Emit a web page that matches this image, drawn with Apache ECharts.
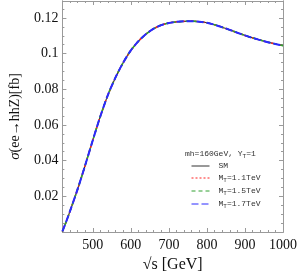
<!DOCTYPE html>
<html>
<head>
<meta charset="utf-8">
<script src="https://cdn.jsdelivr.net/npm/echarts@6/dist/echarts.min.js"></script>
<style>html,body{margin:0;padding:0;background:#fff;}#c{width:300px;height:278px;}</style>
</head>
<body>
<div id="c"></div>
<script>
const sqrtS = [420,430,440,460,480,500,520,540,560,580,600,620,640,660,680,700,720,740,760,780,800,820,840,860,880,900,920,940,960,980,1000];
const sigmaSM = [0.0003,0.0058,0.0117,0.0240,0.0375,0.0515,0.0650,0.0770,0.0868,0.0950,0.1018,0.1070,0.1110,0.1140,0.1160,0.1172,0.1178,0.1181,0.1182,0.1179,0.1173,0.1162,0.1148,0.1133,0.1117,0.1102,0.1088,0.1076,0.1064,0.1054,0.1045];
const sigmaMT11 = sigmaSM.slice();
const sigmaMT15 = sigmaSM.slice();
const sigmaMT17 = sigmaSM.slice();
const xLabelTicks = [500,600,700,800,900,1000];
const xMinorTicks = [420,440,460,480,500,520,540,560,580,600,620,640,660,680,700,720,740,760,780,800,820,840,860,880,900,920,940,960,980,1000];
const yLabelTicks = [0.02,0.04,0.06,0.08,0.1,0.12];
const yMinorTicks = [0,0.005,0.01,0.015,0.02,0.025,0.03,0.035,0.04,0.045,0.05,0.055,0.06,0.065,0.07,0.075,0.08,0.085,0.09,0.095,0.1,0.105,0.11,0.115,0.12,0.125];
const seriesNames = ['SM','M_T=1.1TeV','M_T=1.5TeV','M_T=1.7TeV'];
const legendTitle = 'mh=160GeV, Y{sub|T}=1';

const pairs = arr => sqrtS.map((x,i)=>[x,arr[i]]);
const frameColor = '#9a9a9a';
const serif = 'Liberation Serif';
const mono = 'Liberation Mono';

function xAx(pos, withLabels, minor){
  return {
    type:'value', position:pos, min:420, max:1000, gridIndex:0,
    axisLine:{show:true, onZero:false, lineStyle:{color:frameColor, width:1}},
    splitLine:{show:false},
    axisTick:{show:true, inside:true, length: minor?2:4, customValues: minor?xMinorTicks:xLabelTicks, lineStyle:{color:frameColor}},
    axisLabel:{show:withLabels, customValues:xLabelTicks, fontFamily:serif, fontSize:14, color:'#111', margin:6,
      formatter: v => String(v)},
    name: withLabels ? '√s [GeV]' : '',
    nameLocation:'middle', nameGap:25,
    nameTextStyle:{fontFamily:serif, fontSize:16, color:'#111'}
  };
}
function yAx(pos, withLabels, minor){
  return {
    type:'value', position:pos, min:0, max:0.1295, gridIndex:0,
    axisLine:{show:true, onZero:false, lineStyle:{color:frameColor, width:1}},
    splitLine:{show:false},
    axisTick:{show:true, inside:true, length: minor?2:4, customValues: minor?yMinorTicks:yLabelTicks, lineStyle:{color:frameColor}},
    axisLabel:{show:withLabels, customValues:yLabelTicks, fontFamily:serif, fontSize:14, color:'#111', margin:4,
      formatter: v => String(Math.round(v*100)/100)},
    name: withLabels ? '{s|σ}(ee→hhZ)[fb]' : '',
    nameLocation:'middle', nameGap:35, nameRotate:90,
    nameTextStyle:{fontFamily:serif, fontSize:14, color:'#111', rich:{s:{fontFamily:serif, fontStyle:'italic', fontSize:15, color:'#111'}}}
  };
}

const chart = echarts.init(document.getElementById('c'), null, {renderer:'canvas'});
chart.setOption({
  animation:false,
  backgroundColor:'#fff',
  grid:{left:46.5, right:14, top:1, bottom:39},
  title:{
    text:legendTitle, left:183, top:147, padding:[2,2,2,2],
    textStyle:{fontFamily:mono, fontSize:8, fontWeight:'normal', color:'#333',
      rich:{sub:{fontFamily:mono, fontSize:6, color:'#333', verticalAlign:'bottom', padding:[4,0,0,0]}}}
  },
  legend:{
    orient:'vertical', left:186, top:157, itemWidth:18, itemHeight:8, itemGap:4,
    data:seriesNames,
    itemStyle:{opacity:0},
    lineStyle:{width:1},
    textStyle:{fontFamily:mono, fontSize:8, color:'#333', padding:[0,0,0,4],
      rich:{sub:{fontFamily:mono, fontSize:6, color:'#333', padding:[4,0,0,0]}, t:{fontFamily:mono, fontSize:8, color:'#333'}}},
    formatter: n => n.indexOf('M_T')===0 ? '{t|M}{sub|T}{t|' + n.slice(3) + '}' : n
  },
  xAxis:[xAx('bottom', true, false), xAx('bottom', false, true), xAx('top', false, false), xAx('top', false, true)],
  yAxis:[yAx('left', true, false), yAx('left', false, true), yAx('right', false, false), yAx('right', false, true)],
  series:[
    {name:seriesNames[0], type:'line', symbol:'none', smooth:0.3, data:pairs(sigmaSM), lineStyle:{color:'#333', width:1.2, type:'solid'}, itemStyle:{color:'#333'}},
    {name:seriesNames[1], type:'line', symbol:'none', smooth:0.3, data:pairs(sigmaMT11), lineStyle:{color:'#ff2020', width:1.6, type:[2,2]}, itemStyle:{color:'#ff2020'}},
    {name:seriesNames[2], type:'line', symbol:'none', smooth:0.3, data:pairs(sigmaMT15), lineStyle:{color:'#30a030', width:1.6, type:[4,3]}, itemStyle:{color:'#30a030'}},
    {name:seriesNames[3], type:'line', symbol:'none', smooth:0.3, data:pairs(sigmaMT17), lineStyle:{color:'#2a2aff', width:2, type:[7,3]}, itemStyle:{color:'#2a2aff'}}
  ]
});
</script>
</body>
</html>
